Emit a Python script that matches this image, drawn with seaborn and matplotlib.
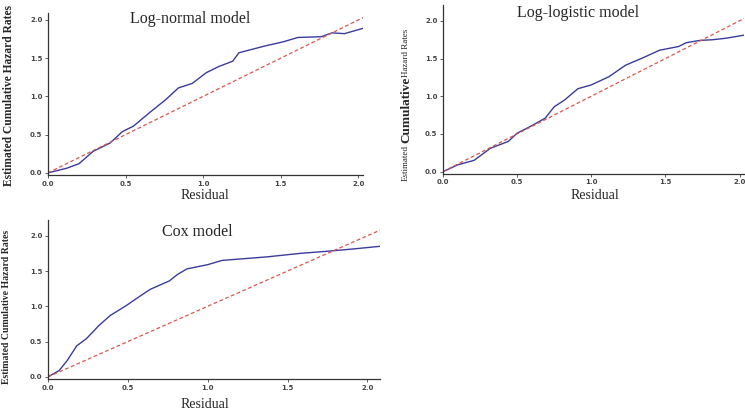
import numpy as np
import pandas as pd
import matplotlib
matplotlib.use("Agg")
import matplotlib.pyplot as plt
import seaborn as sns

# Values
ln_x = [0.0, 0.12, 0.2, 0.29, 0.4, 0.48, 0.55, 0.65, 0.76, 0.84, 0.93, 1.02, 1.1, 1.19, 1.23, 1.4, 1.51, 1.61, 1.76, 1.83, 1.91, 2.03]
ln_y = [0.0, 0.06, 0.12, 0.28, 0.39, 0.54, 0.61, 0.78, 0.96, 1.11, 1.17, 1.31, 1.39, 1.46, 1.57, 1.66, 1.71, 1.77, 1.78, 1.83, 1.82, 1.89]

ll_x = [0.0, 0.1, 0.21, 0.32, 0.44, 0.5, 0.59, 0.69, 0.75, 0.82, 0.91, 1.0, 1.12, 1.23, 1.36, 1.46, 1.59, 1.64, 1.73, 1.82, 1.91, 2.03]
ll_y = [0.0, 0.09, 0.15, 0.31, 0.40, 0.51, 0.60, 0.71, 0.86, 0.95, 1.10, 1.15, 1.26, 1.41, 1.52, 1.61, 1.66, 1.71, 1.74, 1.75, 1.77, 1.81]

cox_x = [0.0, 0.07, 0.12, 0.18, 0.24, 0.32, 0.39, 0.49, 0.58, 0.64, 0.70, 0.76, 0.81, 0.87, 1.0, 1.09, 1.37, 1.58, 1.75, 1.90, 2.08]
cox_y = [0.0, 0.09, 0.23, 0.44, 0.54, 0.73, 0.87, 1.01, 1.15, 1.24, 1.30, 1.36, 1.45, 1.53, 1.59, 1.65, 1.70, 1.75, 1.78, 1.81, 1.85]

ref_line = [0.0, 2.1]
ticks = [0.0, 0.5, 1.0, 1.5, 2.0]

sns.set_style("ticks")
fig = plt.figure(figsize=(7.45, 4.19), dpi=100)

blue = "#3b3b9e"
red = "#d9564f"
serif = "Liberation Serif"


def panel(rect, xs, ys, xmax, ymax, title, title_y):
    ax = fig.add_axes(rect)
    df = pd.DataFrame({"x": xs, "y": ys})
    sns.lineplot(data=df, x="x", y="y", ax=ax, color=blue, lw=1.0)
    ax.plot(ref_line, ref_line, color=red, lw=0.9, ls=(0, (3, 2)))
    ax.set_xlim(0, xmax)
    ax.set_ylim(-0.03, ymax)
    ax.set_xticks(ticks)
    ax.set_yticks(ticks)
    ax.set_xticklabels([f"{t:.1f}" for t in ticks])
    ax.set_yticklabels([f"{t:.1f}" for t in ticks])
    ax.tick_params(labelsize=5, colors="#444444", length=2, width=0.6, pad=2)
    for lab in ax.get_xticklabels() + ax.get_yticklabels():
        lab.set_fontweight("bold")
    for s in ["left", "bottom"]:
        ax.spines[s].set_color("#333333")
        ax.spines[s].set_linewidth(0.9)
    sns.despine(ax=ax)
    ax.set_xlabel("")
    ax.set_ylabel("")
    ax.text(0.45, title_y, title, transform=ax.transAxes, ha="center", va="center",
            family=serif, fontsize=11.5)
    return ax


panel([0.0644, 0.582, 0.423, 0.387], ln_x, ln_y, 2.03, 2.09, "Log-normal model", 0.96)
panel([0.5946, 0.585, 0.404, 0.403], ll_x, ll_y, 2.03, 2.21, "Log-logistic model", 0.95)
panel([0.0644, 0.0955, 0.446, 0.379], cox_x, cox_y, 2.08, 2.22, "Cox model", 0.925)

# x labels
fig.text(205 / 745, 1 - 195 / 419, "Residual", ha="center", va="center", family=serif, fontsize=10)
fig.text(595 / 745, 1 - 195 / 419, "Residual", ha="center", va="center", family=serif, fontsize=10)
fig.text(205 / 745, 1 - 404 / 419, "Residual", ha="center", va="center", family=serif, fontsize=10)

# y labels
fig.text(9 / 745, 1 - 96 / 419, "Estimated Cumulative Hazard Rates", rotation=90, ha="center",
         va="center", family=serif, fontsize=8.3, fontweight="bold")
fig.text(406 / 745, 1 - 181 / 419, "Estimated", rotation=90, ha="center", va="bottom",
         family=serif, fontsize=6.5)
fig.text(406 / 745, 1 - 143 / 419, "Cumulative", rotation=90, ha="center", va="bottom",
         family=serif, fontsize=9.5, fontweight="bold")
fig.text(406 / 745, 1 - 77 / 419, "Hazard Rates", rotation=90, ha="center", va="bottom",
         family=serif, fontsize=6.5)
fig.text(7 / 745, 1 - 307 / 419, "Estimated Cumulative Hazard Rates", rotation=90, ha="center",
         va="center", family=serif, fontsize=7, fontweight="bold")

fig.savefig("out.png", dpi=100)
